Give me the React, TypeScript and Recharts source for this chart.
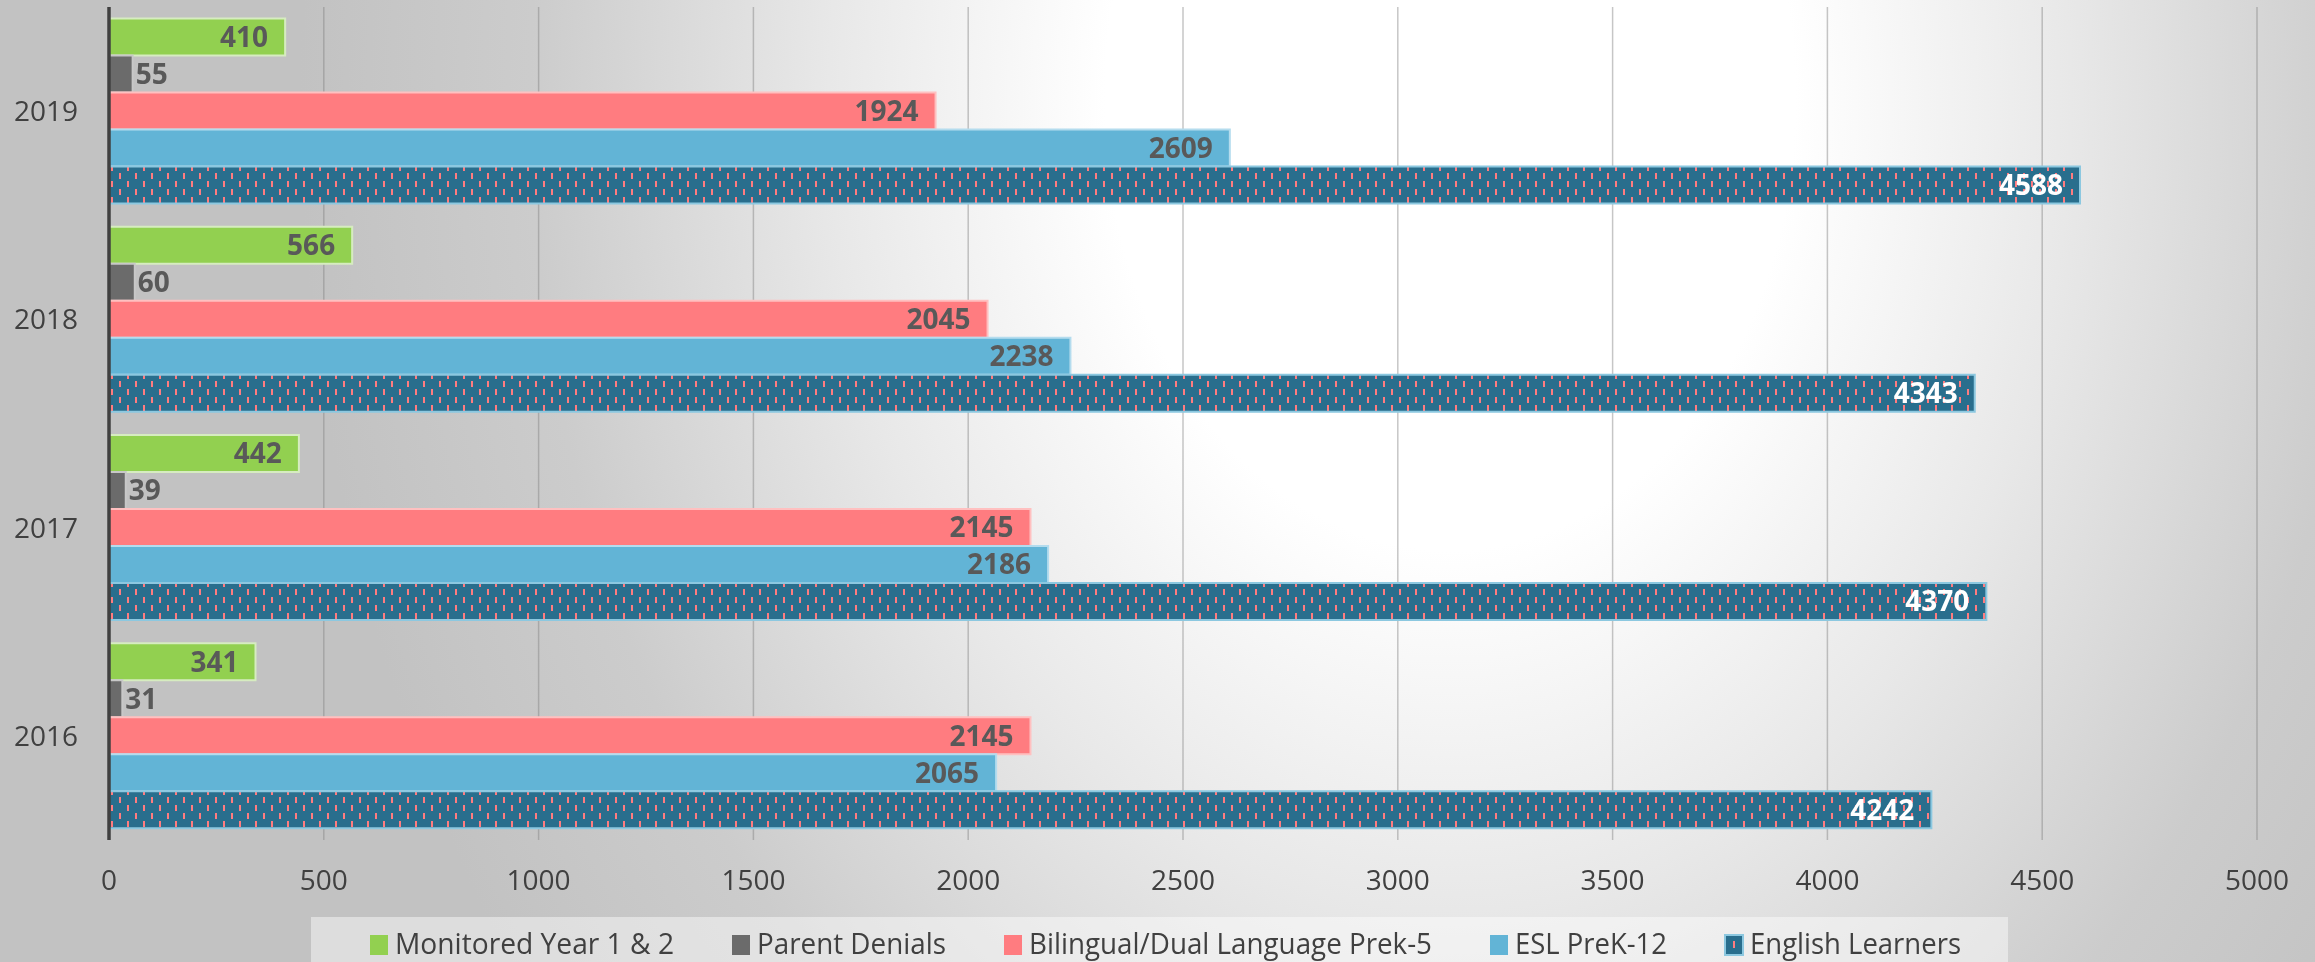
import React from "react";
import {
  BarChart,
  Bar,
  XAxis,
  YAxis,
  CartesianGrid,
  Legend,
  LabelList,
} from "recharts";

const years = ["2019", "2018", "2017", "2016"];
const monitored = [410, 566, 442, 341];
const parentDenials = [55, 60, 39, 31];
const bilingual = [1924, 2045, 2145, 2145];
const esl = [2609, 2238, 2186, 2065];
const englishLearners = [4588, 4343, 4370, 4242];
const xTicks = [0, 500, 1000, 1500, 2000, 2500, 3000, 3500, 4000, 4500, 5000];

const data = years.map((year, i) => ({
  year,
  monitored: monitored[i],
  parentDenials: parentDenials[i],
  bilingual: bilingual[i],
  esl: esl[i],
  englishLearners: englishLearners[i],
}));

const FONT = "'Open Sans', sans-serif";
const TEAL = "#296e8d";
const PINK = "#ff7c80";

const series = [
  { key: "monitored", name: "Monitored Year 1 & 2", fill: "#92d050", stroke: "#d6ecc0", label: "#595959", pos: "insideRight", textW: 279 },
  { key: "parentDenials", name: "Parent Denials", fill: "#6b6b6b", stroke: "#c8c8c8", label: "#595959", pos: "right", textW: 189 },
  { key: "bilingual", name: "Bilingual/Dual Language Prek-5", fill: PINK, stroke: "#ffc0c0", label: "#595959", pos: "insideRight", textW: 403 },
  { key: "esl", name: "ESL PreK-12", fill: "#62b4d6", stroke: "#b4dcee", label: "#595959", pos: "insideRight", textW: 152 },
  { key: "englishLearners", name: "English Learners", fill: "url(#elPattern)", stroke: "#8cc8e0", label: "#ffffff", pos: "insideRight", textW: 211 },
];

const renderLegend = () => {
  let x = 59;
  const items = series.map((s) => {
    const mx = x;
    const tx = x + 25;
    x = tx + s.textW + 58;
    return (
      <g key={s.key}>
        <rect
          x={mx}
          y={18}
          width={18}
          height={20}
          fill={s.key === "englishLearners" ? TEAL : s.fill}
          stroke={s.key === "englishLearners" ? s.stroke : "none"}
          strokeWidth={2}
        />
        {s.key === "englishLearners" && (
          <rect x={mx + 8} y={24} width={2} height={7} fill={PINK} />
        )}
        <text
          x={tx}
          y={37}
          fontFamily={FONT}
          fontSize={30}
          fill="#404040"
          textLength={s.textW}
          lengthAdjust="spacingAndGlyphs"
        >
          {s.name}
        </text>
      </g>
    );
  });
  return (
    <div style={{ width: 1697, height: 45, background: "rgba(255,255,255,0.45)" }}>
      <svg width={1697} height={45} style={{ display: "block", overflow: "hidden" }}>
        {items}
      </svg>
    </div>
  );
};

export default function App() {
  return (
    <div
      style={{
        position: "fixed",
        left: 0,
        top: 0,
        width: 2315,
        height: 962,
        background:
          "radial-gradient(ellipse 1150px 1500px at 1450px 100px, #ffffff 0%, #ffffff 30%, #e8e8e8 54%, #cccccc 80%, #c2c2c2 100%)",
      }}
    >
      <BarChart
        width={2315}
        height={962}
        data={data}
        layout="vertical"
        margin={{ top: 7, right: 58, left: 0, bottom: 0 }}
        barCategoryGap="5.5%"
        barGap={0}
      >
        <defs>
          <pattern id="elPattern" width={16} height={16} patternUnits="userSpaceOnUse">
            <rect x={0} y={0} width={16} height={16} fill={TEAL} />
            <rect x={15} y={5} width={2} height={6} fill={PINK} />
            <rect x={-1} y={5} width={2} height={6} fill={PINK} />
            <rect x={7} y={13} width={2} height={6} fill={PINK} />
            <rect x={7} y={-3} width={2} height={6} fill={PINK} />
          </pattern>
        </defs>
        <CartesianGrid horizontal={false} stroke="#808080" strokeOpacity={0.45} strokeWidth={1.5} />
        <XAxis
          type="number"
          domain={[0, 5000]}
          ticks={xTicks}
          axisLine={false}
          tickLine={false}
          height={77}
          tickMargin={24}
          tick={{ fontFamily: FONT, fontSize: 28, fill: "#404040" }}
        />
        <YAxis
          type="category"
          dataKey="year"
          width={109}
          tickLine={false}
          axisLine={{ stroke: "#404040", strokeWidth: 3.5 }}
          tickMargin={25}
          tick={{ fontFamily: FONT, fontSize: 28, fill: "#404040" }}
        />
        <Legend verticalAlign="bottom" content={renderLegend} wrapperStyle={{ left: 311, bottom: 0, width: 1697, height: 45 }} />
        {series.map((s) => (
          <Bar
            key={s.key}
            dataKey={s.key}
            name={s.name}
            fill={s.fill}
            stroke={s.stroke}
            strokeWidth={2}
            isAnimationActive={false}
          >
            <LabelList
              dataKey={s.key}
              position={s.pos as any}
              offset={s.pos === "right" ? 3 : 17}
              fill={s.label}
              fontFamily={FONT}
              fontSize={28}
              fontWeight={700}
            />
          </Bar>
        ))}
      </BarChart>
    </div>
  );
}
